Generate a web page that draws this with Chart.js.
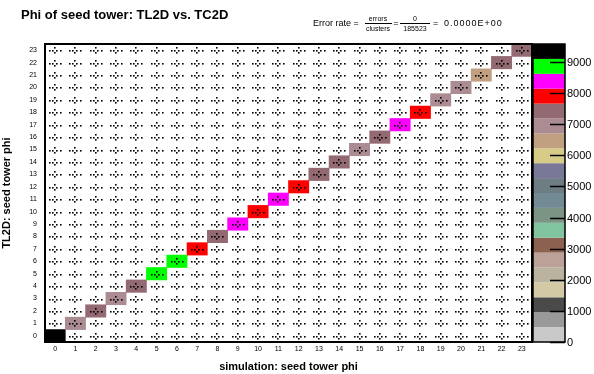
<!DOCTYPE html>
<html>
<head>
<meta charset="utf-8">
<script src="https://cdn.jsdelivr.net/npm/chart.js@4/dist/chart.umd.min.js"></script>
<style>
  html, body { margin: 0; padding: 0; background: #fff; }
  #wrap { width: 594px; height: 374px; }
</style>
</head>
<body>
<div id="wrap"><canvas id="phiChart" width="594" height="374"></canvas></div>
<script>
// tower phi bins (x = simulation, y = TL2D)
const phiBins = ['0','1','2','3','4','5','6','7','8','9','10','11','12','13','14','15','16','17','18','19','20','21','22','23'];
// entries on the diagonal (all off-diagonal cells are 0)
const diagCounts = [9550, 6900, 7400, 6900, 7400, 8800, 8800, 7900, 7400, 8400, 7900, 8400,
                    7900, 7400, 7400, 6900, 7400, 8400, 7900, 6900, 6900, 6400, 7400, 7400];
// colour palette, bottom -> top
const paletteColors = ['#c9c9c9', '#999999', '#4a4a4a', '#d3c9a5', '#bab39d', '#bba198', '#8c6150',
                       '#80c4a0', '#7b9484', '#728a94', '#6e7c84', '#7a7898', '#d6cc88', '#c0a080',
                       '#ab8c92', '#946a72', '#ff0000', '#ff00ff', '#00ff00', '#000000'];
const zTicks = [0, 1000, 2000, 3000, 4000, 5000, 6000, 7000, 8000, 9000];
const zMax = 9580;
const errors = 0;
const clusters = 185523;

const FONT = '"Liberation Sans", Arial, sans-serif';

function colourFor(v) {
  let k = Math.floor(v / zMax * paletteColors.length);
  if (k >= paletteColors.length) k = paletteColors.length - 1;
  return paletteColors[k];
}

const cellDots = {
  id: 'cellDots',
  afterDatasetsDraw(chart) {
    const {ctx, scales: {x, y}} = chart;
    const offs = [[-6, 0], [-1, -3], [-1, 2], [-3, 0], [1, 0], [5, 0]];
    ctx.save();
    ctx.fillStyle = '#000';
    phiBins.forEach((bx, i) => {
      const cx = Math.round(x.getPixelForValue(i));
      phiBins.forEach((by, j) => {
        const cy = Math.round(y.getPixelForValue(j + 0.5));
        offs.forEach(o => {
          ctx.fillRect(cx + o[0], cy + o[1], 1.6, 1.6);
        });
      });
    });
    // frame
    const a = chart.chartArea;
    ctx.strokeStyle = '#000';
    ctx.lineWidth = 2;
    ctx.strokeRect(a.left, a.top, a.right - a.left, a.bottom - a.top);
    ctx.restore();
  }
};

const palette = {
  id: 'palette',
  afterDraw(chart) {
    const {ctx, chartArea: a, scales: {z}} = chart;
    const x0 = a.right + 1, x1 = a.right + 33;
    const step = zMax / paletteColors.length;
    ctx.save();
    paletteColors.forEach((c, k) => {
      const yb = z.getPixelForValue(k * step);
      const yt = z.getPixelForValue((k + 1) * step);
      ctx.fillStyle = c;
      ctx.fillRect(x0, yt, x1 - x0, yb - yt);
    });
    ctx.strokeStyle = '#000';
    ctx.lineWidth = 1.5;
    ctx.strokeRect(x0, a.top, x1 - x0, a.bottom - a.top);
    ctx.fillStyle = '#000';
    ctx.font = '11px ' + FONT;
    ctx.textBaseline = 'middle';
    ctx.textAlign = 'left';
    zTicks.forEach(t => {
      const yy = Math.round(z.getPixelForValue(t)) + 0.5;
      ctx.beginPath();
      ctx.moveTo(x1 - 15, yy);
      ctx.lineTo(x1, yy);
      ctx.stroke();
      ctx.fillText(String(t), x1 + 2, yy);
    });

    // title + error rate
    ctx.font = 'bold 13px ' + FONT;
    ctx.fillText('Phi of seed tower: TL2D vs. TC2D', 21, 15);
    ctx.font = '9px ' + FONT;
    ctx.fillText('Error rate =', 313, 24);
    ctx.font = '7px ' + FONT;
    ctx.textAlign = 'center';
    ctx.fillText('errors', 378, 19);
    ctx.fillText('clusters', 378, 29);
    ctx.fillText(String(errors), 415, 19);
    ctx.fillText(String(clusters), 415, 29);
    ctx.font = '9px ' + FONT;
    ctx.fillText('=', 396, 24);
    ctx.textAlign = 'left';
    const rate = (errors / clusters).toFixed(4) + 'E+00';
    ctx.fillText('=', 433, 24);
    ctx.letterSpacing = '1px';
    ctx.fillText(rate, 444, 24);
    ctx.letterSpacing = '0px';
    ctx.fillRect(365, 23, 27, 1);
    ctx.fillRect(400, 23, 30, 1);
    ctx.restore();
  }
};

new Chart(document.getElementById('phiChart'), {
  type: 'bar',
  data: {
    labels: phiBins,
    datasets: [{
      data: diagCounts.map((v, i) => [i, i + 1]),
      backgroundColor: diagCounts.map(colourFor),
      borderWidth: 0,
      barPercentage: 1,
      categoryPercentage: 1
    }]
  },
  options: {
    responsive: false,
    animation: false,
    layout: { padding: { top: 44, left: 0, right: 0, bottom: 0 } },
    plugins: { legend: { display: false }, tooltip: { enabled: false }, title: { display: false } },
    scales: {
      x: {
        grid: { display: false, drawTicks: false },
        border: { display: false },
        ticks: { color: '#000', font: { size: 7, family: FONT }, padding: 3, maxRotation: 0, autoSkip: false },
        title: { display: true, text: 'simulation: seed tower phi', color: '#000',
                 font: { size: 11, weight: 'bold', family: FONT }, padding: { top: 6, bottom: 0 } },
        afterFit: s => { s.height = 32; }
      },
      y: {
        min: 0, max: 24,
        grid: { display: false, drawTicks: false },
        border: { display: false },
        afterBuildTicks: s => { s.ticks = phiBins.map((b, i) => ({ value: i + 0.5 })); },
        ticks: { color: '#000', font: { size: 7, family: FONT }, padding: 8,
                 callback: (v) => String(Math.floor(v)) },
        title: { display: true, text: 'TL2D: seed tower phi', color: '#000',
                 font: { size: 11, weight: 'bold', family: FONT }, padding: { top: 0, bottom: 4 } },
        afterFit: s => { s.width = 45; }
      },
      z: {
        position: 'right',
        min: 0, max: zMax,
        grid: { display: false, drawTicks: false },
        border: { display: false },
        ticks: { display: false },
        afterFit: s => { s.width = 62; }
      }
    }
  },
  plugins: [cellDots, palette]
});
</script>
</body>
</html>
